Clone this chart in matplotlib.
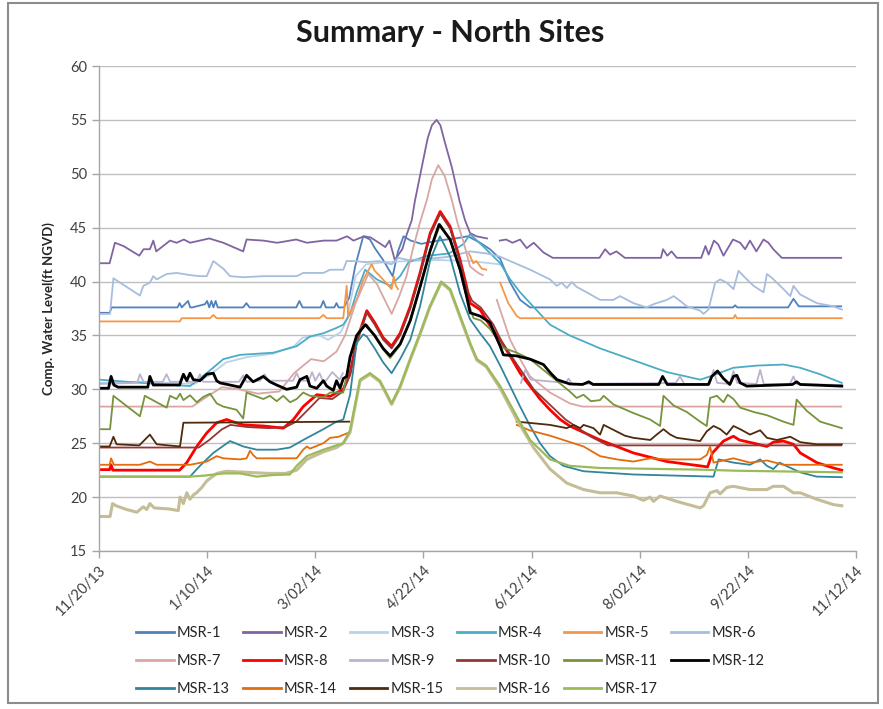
import numpy as np
import pandas as pd
import matplotlib
matplotlib.use("Agg")
import matplotlib.pyplot as plt
import matplotlib.dates as mdates
from matplotlib.patches import Rectangle

plt.rcParams['font.family'] = ['Lato', 'DejaVu Sans']

nan = np.nan
start = pd.Timestamp('2013-11-20')

# day offsets from 11/20/13 and water levels (nan = gap in record)
msr1_d = [0, 5, 6, 37, 38, 39, 42, 43, 44, 50, 51, 52, 53, 54, 55, 56, 68, 69.5, 71, 93, 94.5, 96, 104.5, 105.8, 107,
          111, 112, 113, 115.5, 118, 120.8, 124.6, 127.8, 130.1, 134, 138.5, 141, 143.6, 147, 152, 160, 168, 174, 179.7,
          184.4, 189.2, 193.9, 198.6, 203.3, 230, 265, 299, 300, 301, 325, 327.5, 330, 350]
msr1_v = [37.1, 37.1, 37.6, 37.6, 38.0, 37.6, 38.2, 37.6, 37.6, 37.9, 38.2, 37.6, 38.2, 37.6, 38.2, 37.6, 37.6, 38.0, 37.6,
          37.6, 38.2, 37.6, 37.6, 38.2, 37.6, 37.6, 38.0, 37.6, 37.6, 38.5, 41.4, 44.2, 43.9, 43.1, 42.0, 40.5, 42.8, 44.2,
          43.8, 43.5, 43.8, 44.0, 44.2, 43.6, 43.0, 42.1, 39.9, 38.3, 37.6, 37.6, 37.6, 37.6, 37.8, 37.6, 37.6, 38.4, 37.7,
          37.7]

msr2_d = [0, 5, 7.5, 11.5, 19, 21, 24, 25.6, 27, 33.5, 36.6, 40, 43, 52, 58.6, 68, 69.6, 77.5, 84, 93, 98, 106, 112, 117,
          120, 125, 128, 132, 135, 137, 139.5, 143, 145, 147.5, 149, 152.2, 155, 157, 159.2, 161, 163, 166.4, 170, 172.6,
          175, 178, 183, nan, 189, 192, 195, 198.6, 201.7, 205, 209.6, 214, 236, 238.7, 241, 244, 248, 265, 266, 268, 270,
          272.5, 284, 286, 287.5, 290, 292, 294.5, 299, 302.4, 304.7, 307, 310, 313.4, 315.7, 318, 322, 350]
msr2_v = [41.7, 41.7, 43.6, 43.3, 42.4, 43.0, 43.0, 43.8, 42.8, 43.8, 43.6, 43.9, 43.6, 44.0, 43.6, 42.8, 43.9, 43.8, 43.6,
          43.9, 43.6, 43.8, 43.8, 44.2, 43.8, 44.2, 44.1, 43.6, 43.2, 43.8, 42.0, 43.0, 44.3, 45.7, 47.5, 50.6, 53.3, 54.5,
          55.0, 54.5, 53.0, 50.6, 47.5, 45.7, 44.5, 44.2, 44.0, nan, 43.8, 43.9, 43.6, 43.9, 43.1, 43.6, 42.7, 42.2, 42.2,
          43.0, 42.5, 42.8, 42.2, 42.2, 43.0, 42.4, 42.8, 42.2, 42.2, 43.3, 42.5, 43.8, 43.45, 42.4, 43.9, 43.6, 43.0, 43.8,
          42.8, 43.9, 43.6, 43.0, 42.2, 42.2]

msr3_d = [0, 20, 45, 52, 60, 70, 82, 92, 96, 104, 108, 114, 117, 121, 126, 135, 145, 160, 175, 189]
msr3_v = [30.6, 30.7, 30.5, 31.3, 32.5, 33.0, 33.3, 34.0, 34.8, 35.0, 34.6, 35.3, 36.5, 40.5, 41.6, 41.8, 41.9, 42.0, 41.9,
          41.6]

msr4_d = [0, 20, 42.9, 50.8, 58.6, 66.5, 82.2, 93.2, 99.5, 105.8, 112, 115.2, 118.4, 121.5, 125.5, 131, 137.3, 142, 146,
          155, 165, 172, 175, 181, 189.2, 193.9, 198.6, 203.3, 212.7, 222, 236.3, 252, 267.8, 283.5, 288.2, 299.2, 310,
          322.8, 330.7, 340, 346.4, 350.3]
msr4_v = [30.9, 30.6, 30.3, 31.5, 32.8, 33.2, 33.4, 34.0, 34.9, 35.2, 35.7, 36.0, 37.0, 39.0, 41.1, 40.2, 39.6, 40.5, 41.8,
          42.4, 42.6, 43.5, 44.4, 43.3, 41.7, 40.2, 39.0, 38.0, 36.0, 35.0, 33.8, 32.7, 31.6, 30.9, 31.2, 32.0, 32.2, 32.3,
          32.0, 31.4, 30.9, 30.6]

msr5_d = [0, 38.2, 39, 52.4, 53.9, 55.5, 104, 105.8, 107.4, 115.2, 116.8, 117.5, 121.5, 124.7, 128.6, 130, 133, 138,
          139, 140, 141, nan, 174.5, 176.5, 178, 180.5, 182.6, nan, 189.2, 193, 197, 198.6, 299.2, 300, 300.8, 350.3]
msr5_v = [36.3, 36.3, 36.6, 36.6, 36.9, 36.6, 36.6, 36.9, 36.6, 36.6, 39.6, 36.8, 38.3, 40.2, 41.6, 41.0, 40.4, 39.3,
          40.5, 39.6, 39.3, nan, 42.6, 41.7, 41.9, 41.2, 41.1, nan, 39.9, 38.0, 36.8, 36.6, 36.6, 36.9, 36.6, 36.6]

msr6_d = [0, 5.2, 6.8, 11.5, 19.3, 20.9, 24, 25.6, 27.2, 31.9, 36.6, 42.9, 47.6, 50.8, 53.9, 58.6, 61.8, 68, 77.5, 93.2,
          96.3, 105.8, 109, 115.2, 116.8, 120, 126, 132, 138, 141, 146, 155, 165, 175, 183, 189.2, 193.9, 203.3, 212.7,
          215.9, 218.2, 220.6, 223, 225.3, 230, 236.3, 242.6, 245.7, 252, 258.3, 261.5, 267.8, 271, 274.1, 277.2, 283.5,
          285.1, 287.4, 290.6, 292.9, 296.1, 299.2, 301.6, 304, 308.7, 313.4, 315, 317.3, 322.8, 326, 327.5, 330.7, 338.5,
          346.4, 350.3]
msr6_v = [37.0, 37.0, 40.3, 39.7, 38.7, 39.6, 39.9, 40.5, 40.2, 40.7, 40.8, 40.6, 40.5, 40.5, 41.9, 41.2, 40.5, 40.4, 40.5,
          40.5, 40.8, 40.8, 41.1, 41.1, 41.9, 41.9, 41.8, 41.9, 41.6, 42.2, 42.0, 42.1, 42.3, 42.8, 42.6, 42.3, 41.9, 41.1,
          40.2, 39.6, 39.9, 39.4, 39.95, 39.5, 39.0, 38.3, 38.3, 38.65, 38.0, 37.6, 37.9, 38.3, 38.65, 38.2, 37.7, 37.3,
          37.0, 37.4, 39.9, 40.2, 39.9, 39.3, 41.0, 40.5, 39.6, 39.0, 40.7, 40.35, 39.3, 38.65, 39.6, 38.8, 38.0, 37.7, 37.4]

msr7_d = [0, 44, 50, 58, 66, 75, 85, 92, 100, 106, 112, 116, 121, 127, 131, 138, 141.5, 145, 148, 151.4, 154.6, 157, 160,
          163, 166.4, 169, 172, 175, 177.5, 179.7, 181, nan, 187.6, 193.9, 198.6, 203.3, 212.7, 222, 228, 350]
msr7_v = [28.4, 28.4, 29.2, 30.2, 30.0, 29.6, 29.8, 31.5, 32.8, 32.6, 33.5, 35.0, 38.0, 40.7, 39.8, 37.0, 38.6, 40.5, 43.0,
          45.5, 47.55, 49.5, 50.8, 49.8, 47.55, 45.5, 43.6, 41.4, 41.0, 40.7, 40.6, nan, 38.3, 34.6, 32.8, 31.2, 29.7, 28.7,
          28.4, 28.4]

msr8_d = [0, 5, 5.7, 6.5, 38, 41.4, 46.1, 50.8, 55.5, 60.2, 63, 68, 77.5, 86.9, 91.7, 96.3, 102.7, 109, 115.2, 118.4,
          121.5, 126.3, 130, 134, 138, 142, 146.8, 151.4, 156.2, 160.9, 165.6, 170.3, 173.4, 175, 179.7, 184.4, 189.2,
          193.9, 198.6, 203.3, 208, 212.7, 217.5, 222, 236.3, 252, 267.8, 283.5, 287, 289.3, 294.5, 299.2, 302, 308.7, 315,
          318, 322.8, 327.5, 330.7, 338.5, 346.4, 350.3]
msr8_v = [22.55, 22.55, 23.0, 22.5, 22.5, 23.2, 24.7, 25.95, 26.9, 27.2, 27.0, 26.7, 26.6, 26.4, 27.2, 28.4, 29.5, 29.35,
          30.0, 31.5, 34.5, 37.3, 36.2, 34.8, 34.0, 35.2, 37.7, 40.8, 44.5, 46.5, 45.1, 42.0, 39.5, 38.0, 37.4, 35.9, 34.6,
          33.1, 31.5, 30.3, 29.1, 28.1, 27.2, 26.6, 25.3, 24.1, 23.3, 22.9, 22.8, 24.1, 25.2, 25.65, 25.3, 25.0, 24.7, 25.1,
          25.2, 24.9, 24.1, 23.2, 22.7, 22.5]

msr9_d = [0, 18, 19.3, 21, 30, 31.9, 33.5, 38, 39.8, 41.5, 46, 47.6, 49.2, 66, 68, 69.6, 76, 78, 80, 91.5, 93.2, 95, 99,
          100.5, 102, 104, 105.5, 107, 110, 113.5, 115, nan, 199, 201, 203.6, 220, 221.5, 223, 272, 274, 276, 288, 289.8,
          291.5, 297.5, 299.2, 301, 310, 311.8, 313.5, 325.8, 327.5, 329, 350.3]
msr9_v = [30.5, 30.6, 31.4, 30.7, 30.7, 31.4, 30.7, 30.7, 31.4, 30.7, 30.7, 31.4, 30.7, 30.7, 31.3, 30.7, 30.8, 31.4, 30.8,
          30.8, 31.5, 30.8, 30.8, 31.6, 30.8, 31.5, 30.8, 30.8, 31.6, 30.9, 31.5, nan, 30.6, 31.8, 30.9, 30.6, 31.0, 30.5,
          30.6, 31.2, 30.5, 30.5, 31.8, 30.6, 30.5, 31.7, 30.6, 30.5, 31.8, 30.5, 30.5, 31.2, 30.5, 30.4]

msr10_d = [0, 47, 52, 58, 62, 70, 80, 88, 93, 98, 104, 110, 115, 118.4, 121.5, 126.3, 130, 134, 138, 142, 146.8, 151.4,
           156.2, 160.9, 165.6, 170.3, 173.4, 176, 180, 186, 190, 205, 220, 232, 240, 350]
msr10_v = [24.6, 24.6, 25.3, 26.3, 26.7, 26.5, 26.4, 26.5, 27.0, 28.0, 29.2, 29.1, 29.8, 31.3, 34.3, 37.1, 36.0, 34.6, 33.8,
           35.0, 37.5, 40.6, 44.3, 46.3, 44.9, 41.8, 39.3, 38.2, 37.6, 36.0, 34.4, 30.0, 27.2, 25.6, 24.8, 24.8]

msr11_d = [0, 5.2, 6.8, 19.3, 21.6, 31.9, 33.5, 36.6, 38.2, 39.8, 42.9, 46.1, 49.2, 52.4, 55.5, 58.6, 64.9, 68, 69.6, 77.5,
           80.6, 83.8, 86.9, 90.1, 93.2, 96.3, 99.5, 105.8, 109, 115.2, 118.4, 121.5, 124, 126.3, 130, 134, 137.3, 142,
           146.8, 151.4, 156.2, 160.9, 165.6, 170.3, 173.4, 176.6, 180, 184.4, 190.7, 197, 203.3, 212.7, 222, 225.3, 228.5,
           232, 236.3, 238, 242.6, 252, 259.9, 264.6, 266.2, 271, 277.2, 283.5, 286.6, 288.2, 291.4, 294.5, 296.5, 299.2,
           302.4, 308.7, 315, 322.8, 327.5, 329, 333.8, 340.1, 350.3]
msr11_v = [26.3, 26.3, 29.4, 27.5, 29.4, 28.3, 29.4, 29.1, 29.6, 29.0, 29.45, 28.8, 29.3, 29.6, 28.7, 28.4, 28.1, 27.3,
           29.7, 29.1, 29.4, 28.9, 29.4, 28.8, 29.1, 29.7, 29.4, 29.25, 29.7, 29.7, 32.9, 34.9, 35.9, 36.0, 34.9, 33.7, 32.9,
           34.1, 36.3, 39.4, 42.8, 45.3, 43.8, 41.0, 38.5, 36.6, 36.4, 35.6, 33.85, 33.4, 32.8, 31.3, 29.8, 29.2, 29.5, 28.9,
           29.0, 29.4, 28.6, 27.8, 27.2, 26.6, 29.4, 28.5, 27.9, 27.0, 26.6, 29.2, 29.4, 28.8, 29.5, 29.1, 28.3, 27.9, 27.6,
           27.0, 26.7, 29.05, 28.0, 27.0, 26.4]

msr12_d = [0, 4.5, 5.7, 7, 9, 23, 24, 25.6, 38, 39.8, 41.4, 42.9, 44.5, 47.6, 50.8, 53.9, 55.5, 57, 61.8, 66.5, 69.6,
           72.7, 77.5, 80.6, 83.8, 88.5, 93.2, 94.8, 98, 99.5, 102.7, 105.8, 107.4, 110.5, 112, 113.7, 115.2, 116.8, 118.4,
           121.5, 125.6, 130, 134, 137.3, 142, 146.8, 151.4, 156.2, 160.4, 165.6, 170.3, 173.4, 175, 179.7, 184.4, 186.5,
           189.2, 190.7, 197, 203.3, 209.6, 213, 216, 222, 228, 231, 233, 264, 265.8, 268, 287.4, 289, 291.7, 294.5, 297.5,
           299.2, 300.8, 302.4, 305.5, 327, 329, 330.7, 350.3]
msr12_v = [30.1, 30.1, 31.2, 30.4, 30.2, 30.2, 31.2, 30.4, 30.4, 31.4, 30.8, 31.5, 30.9, 30.8, 31.4, 31.5, 30.8, 30.6,
           30.4, 30.2, 31.3, 30.7, 31.2, 30.7, 30.4, 30.0, 30.2, 30.9, 31.2, 30.3, 30.1, 30.8, 30.3, 29.9, 30.8, 30.1, 31.0,
           31.2, 33.0, 35.0, 36.0, 35.0, 33.8, 33.1, 34.2, 36.4, 39.5, 42.9, 45.3, 43.9, 41.1, 38.6, 37.1, 36.8, 36.2, 35.2,
           34.0, 33.2, 33.1, 32.8, 32.3, 31.5, 30.9, 30.5, 30.45, 30.7, 30.45, 30.45, 31.2, 30.45, 30.45, 31.2, 31.7, 31.0,
           30.45, 31.2, 31.3, 30.6, 30.3, 30.45, 30.7, 30.45, 30.3]

msr13_d = [0, 42.9, 47.6, 53.9, 61.8, 68, 74.4, 83.8, 90, 96.3, 105.8, 112, 115.2, 118.4, 121.5, 124.6, 126.3, 130, 134,
           138, 142, 146.8, 151.4, 156.2, 160.8, 165.6, 170.3, 175, 179.7, 184.4, 189.2, 193.9, 198.6, 203.3, 208, 212.7,
           219, 228.5, 236.3, 252, 289.8, 292.2, 299.2, 307, 311.8, 315, 318, 321, 324, 330.7, 338.5, 350.3]
msr13_v = [21.9, 21.9, 22.9, 24.1, 25.2, 24.7, 24.4, 24.4, 24.6, 25.3, 26.3, 27.0, 27.2, 29.5, 34.3, 35.1, 34.9, 33.8, 32.5,
           31.5, 32.8, 34.6, 37.7, 42.0, 44.2, 42.3, 38.9, 36.5, 35.2, 34.0, 32.2, 30.3, 28.4, 26.6, 25.0, 23.8, 22.9, 22.4,
           22.3, 22.1, 21.9, 23.5, 23.2, 23.0, 23.5, 22.9, 22.6, 23.2, 22.9, 22.3, 21.9, 21.85]

msr14_d = [0, 5, 5.7, 7, 19.3, 24, 27.2, 38.2, 42.9, 50.8, 55.5, 58.6, 66.5, 69.6, 71.2, 72.7, 74.4, 93.2, 96.3, 98, 99.5,
           105.8, 109, 113, 118, nan, 197, 203, 212.7, 219, 228.5, 236.3, 244.2, 252, 259.9, 267.8, 283.5, 286.6, 288.2,
           289.8, 299.2, 307, 315, 322.8, 350.3]
msr14_v = [23.0, 23.0, 23.6, 23.0, 23.0, 23.3, 23.0, 23.0, 23.0, 23.3, 23.8, 23.6, 23.5, 23.6, 24.3, 23.9, 23.6, 23.6, 24.4,
           24.7, 24.5, 25.0, 25.5, 25.6, 26.0, nan, 26.7, 26.2, 25.7, 25.3, 24.7, 23.8, 23.5, 23.3, 23.6, 23.5, 23.5, 23.9,
           24.7, 23.2, 23.6, 23.2, 23.4, 23.0, 23.0]

msr15_d = [0, 5, 6.8, 8.3, 19, 21, 24, 27.2, 38.2, 39.8, 118, nan, 197, 205, 212.7, 220.6, 223.8, 227, 228.5, 233.2,
           236.3, 238, 241, 244, 248, 252, 260, 263, 266.2, 269.4, 272.5, 283.5, 286.6, 289.8, 293, 296, 299.2, 302.4, 307,
           311.8, 315, 319.7, 326, 330.7, 338.5, 350.3]
msr15_v = [24.7, 24.7, 25.6, 24.9, 24.8, 25.2, 25.8, 24.9, 24.7, 26.9, 27.0, nan, 27.0, 26.85, 26.7, 26.4, 26.7, 26.4, 26.7,
           26.4, 25.8, 26.7, 26.4, 26.1, 25.7, 25.5, 25.3, 25.8, 26.3, 25.8, 25.5, 25.2, 26.1, 26.6, 26.3, 25.8, 26.6, 26.3,
           25.8, 26.2, 25.5, 25.3, 25.6, 25.1, 24.9, 24.9]

msr16_d = [0, 5.2, 6.4, 8, 13, 17.8, 20.9, 22.5, 24, 26, 33, 37.4, 38.2, 39.8, 41.4, 42.9, 44.5, 46, 48.5, 50.8, 55.5, 60,
           70, 80, 88, 93.2, 98, 105.8, 112, 115.2, 118.4, 123.1, 127.8, 132.5, 138, 142, 146.7, 151.4, 156, 161.4, 165.6,
           170.3, 175, 178.2, 182.6, 189.2, 197, 204.9, 212.7, 220.6, 228.5, 236.3, 244.2, 252, 256.7, 259.9, 261.5, 264.6,
           267.8, 272.5, 283.5, 285.1, 288.2, 291.4, 292.9, 296.1, 299.2, 307, 315, 318, 322.8, 327.5, 330.7, 338.5, 346.4,
           350.3]
msr16_v = [18.2, 18.2, 19.4, 19.2, 18.85, 18.6, 19.1, 18.85, 19.4, 19.0, 18.9, 18.75, 20.0, 19.4, 20.4, 19.8, 20.2, 20.4,
           20.9, 21.5, 22.2, 22.4, 22.3, 22.2, 22.2, 22.5, 23.5, 24.2, 24.6, 25.0, 26.0, 30.8, 31.4, 30.7, 28.6, 30.2, 32.7,
           35.1, 37.6, 39.9, 39.2, 36.7, 34.2, 32.7, 32.1, 30.1, 27.2, 24.6, 22.6, 21.3, 20.7, 20.4, 20.4, 20.1, 19.7, 20.0,
           19.6, 20.1, 19.9, 19.6, 19.0, 19.2, 20.4, 20.6, 20.3, 20.9, 21.0, 20.7, 20.7, 21.0, 21.0, 20.4, 20.4, 19.8, 19.3,
           19.2]

msr17_d = [0, 42.9, 50, 58.6, 66.5, 74.4, 82.2, 90, 93.2, 98, 105.8, 112, 115.2, 118.4, 123.1, 127.8, 132.5, 138, 142,
           146.7, 151.4, 156, 161.4, 165.6, 170.3, 175, 178.2, 182.6, 189.2, 197, 203.3, 212.7, 222, 236.3, 283.5, 300,
           350.3]
msr17_v = [21.9, 21.9, 22.0, 22.2, 22.2, 21.9, 22.05, 22.1, 22.9, 23.8, 24.4, 24.8, 25.0, 26.2, 30.9, 31.5, 30.8, 28.7,
           30.3, 32.8, 35.2, 37.7, 40.0, 39.3, 36.8, 34.3, 32.8, 32.2, 30.3, 27.5, 25.3, 23.5, 22.9, 22.7, 22.55, 22.45,
           22.3]

names = ['MSR-%d' % i for i in range(1, 18)]
days = [msr1_d, msr2_d, msr3_d, msr4_d, msr5_d, msr6_d, msr7_d, msr8_d, msr9_d, msr10_d, msr11_d, msr12_d, msr13_d,
        msr14_d, msr15_d, msr16_d, msr17_d]
levels = [msr1_v, msr2_v, msr3_v, msr4_v, msr5_v, msr6_v, msr7_v, msr8_v, msr9_v, msr10_v, msr11_v, msr12_v, msr13_v,
          msr14_v, msr15_v, msr16_v, msr17_v]
colors = ['#4F81BD', '#8064A2', '#B7D3EA', '#4BACC6', '#F79646', '#A7BDDE', '#D9A6A4', '#FF0000', '#BDB2CE', '#953735',
          '#77933C', '#000000', '#31859C', '#E46C0A', '#4F2A0C', '#C4BD97', '#9BBB59']
widths = [1.3] * 17
widths[7] = 2.0   # MSR-8
widths[11] = 2.0  # MSR-12
widths[15] = 2.2
widths[16] = 1.6

tick_dates = pd.date_range('2013-11-20', periods=8, freq='51D')
tick_labels = ['%d/%02d/%02d' % (t.month, t.day, t.year % 100) for t in tick_dates]
t0 = mdates.date2num(start.to_pydatetime())
tick_pos = mdates.date2num(tick_dates.to_pydatetime())

fig = plt.figure(figsize=(8.83, 7.09), dpi=100)
ax = fig.add_axes([99 / 883, 1 - 551 / 709, 757 / 883, 485 / 709])

handles = []
for name, d, v, c, w in zip(names, days, levels, colors, widths):
    x = t0 + np.array(d, dtype=float)
    h, = ax.plot(x, v, color=c, lw=w, label=name, solid_joinstyle='round')
    handles.append(h)

ax.set_xlim(tick_pos[0], tick_pos[-1])
ax.set_ylim(15, 60)
ax.set_yticks(range(15, 61, 5))
ax.set_xticks(tick_pos)
ax.set_xticklabels(tick_labels, rotation=45, ha='right', rotation_mode='anchor')
ax.grid(axis='y', color='#BFBFBF', lw=1.0)
ax.set_axisbelow(True)
for s in ['top', 'right']:
    ax.spines[s].set_visible(False)
for s in ['left', 'bottom']:
    ax.spines[s].set_color('#A6A6A6')
    ax.spines[s].set_linewidth(1.0)
ax.tick_params(axis='both', colors='#A6A6A6', length=5, width=1.0, labelcolor='#404040', labelsize=10.5)
ax.tick_params(axis='x', pad=4)
ax.set_ylabel('Comp. Water Level(ft NGVD)', fontsize=9.5, fontweight='bold', color='#262626', labelpad=11)

fig.text(0.51, 0.953, 'Summary - North Sites', ha='center', va='center', fontsize=22, fontweight='bold',
         color='#1a1a1a')

order = [0, 6, 12, 1, 7, 13, 2, 8, 14, 3, 9, 15, 4, 10, 16, 5, 11]
leg = fig.legend([handles[i] for i in order], [names[i] for i in order], ncol=6, loc='center',
                 bbox_to_anchor=(450 / 883, 1 - 661 / 709), frameon=False, fontsize=10.5, handlelength=2.6,
                 handletextpad=0.2, columnspacing=0.9, labelspacing=0.98, labelcolor='#262626')
for line in leg.get_lines():
    line.set_linewidth(2.0)

fig.patches.append(Rectangle((8 / 883, 6 / 709), 870 / 883, 700 / 709, transform=fig.transFigure, fill=False,
                             edgecolor='#8C8C8C', lw=1.5))

fig.savefig('out.png', dpi=100)
